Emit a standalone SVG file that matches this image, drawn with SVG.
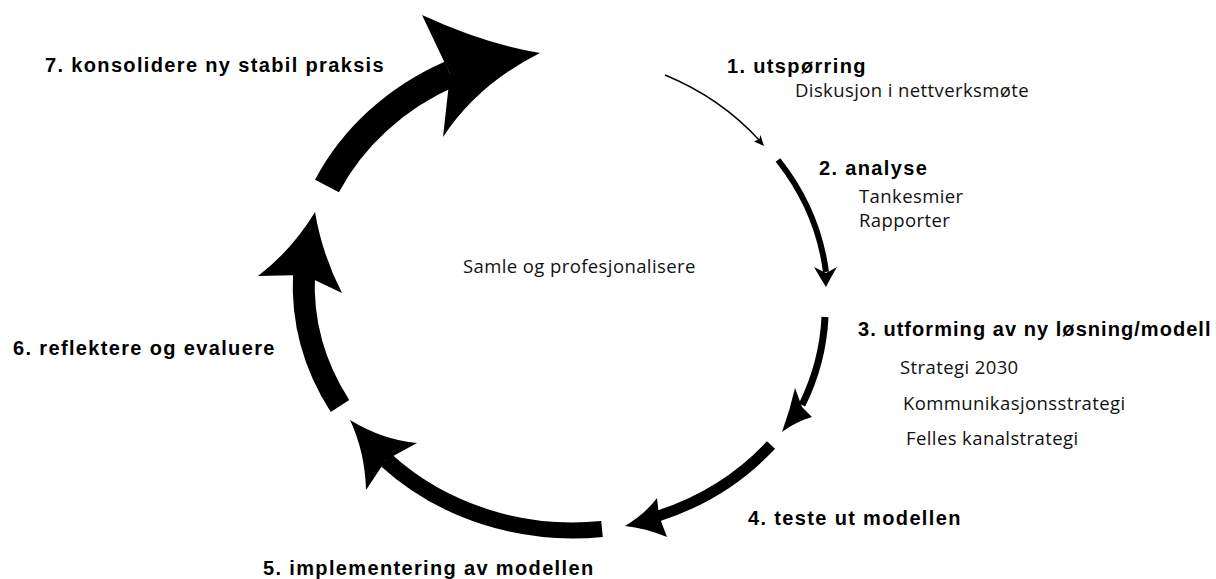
<svg xmlns="http://www.w3.org/2000/svg" width="1216" height="579" viewBox="0 0 1216 579">
  <style>
    .step { font-family: "Liberation Sans", Arial, sans-serif; font-weight: bold; font-size: 20px; letter-spacing: 1.35px; fill: #000; }
    .note { font-family: "Open Sans", "Noto Sans", sans-serif; font-size: 18.5px; letter-spacing: 0.4px; fill: #111; }
    .shaft { fill: none; stroke: #000; stroke-linecap: butt; }
    .head { fill: #000; stroke: none; }
  </style>
  <rect width="1216" height="579" fill="#fff"/>

  <!-- cycle arrows, growing heavier step by step -->
  <g id="connectors">
    <!-- 1 -> 2 -->
    <path class="shaft" d="M665,75 A264,240 0 0 1 760,141" stroke-width="1.4"/>
    <path class="head" d="M764,146 L754,141.5 L759.5,139 L760.5,135 Z"/>
    <!-- 2 -> 3 -->
    <path class="shaft" d="M778,160 A264,240 0 0 1 826,272" stroke-width="6"/>
    <path class="head" d="M826,287 Q819,276 814,267 L826,273 L837,267 Q831,277 826,287 Z"/>
    <!-- 3 -> 4 -->
    <path class="shaft" d="M825,317 A264,240 0 0 1 802,405" stroke-width="7"/>
    <path class="head" d="M782,432 Q790,410 795,388 L802,407 L812,417 Q795,422 782,432 Z"/>
    <!-- 4 -> 5 -->
    <path class="shaft" d="M771,445 A264,240 0 0 1 658,516" stroke-width="11"/>
    <path class="head" d="M625,526 Q645,514 657,498 L659,516 L667,537 Q645,528 625,526 Z"/>
    <!-- 5 -> 6 -->
    <path class="shaft" d="M602,529 A264,240 0 0 1 386,460" stroke-width="16"/>
    <path class="head" d="M350,420 Q383,440 417,443 L386,460 L366,490 Q365,452 350,420 Z"/>
    <!-- 6 -> 7 -->
    <path class="shaft" d="M340,406 A264,240 0 0 1 304,274" stroke-width="22"/>
    <path class="head" d="M315,212 Q292,250 258,276 L304,275 L342,293 Q322,254 315,212 Z"/>
    <!-- 7 -> 1 -->
    <path class="shaft" d="M327,186 A264,240 0 0 1 450,74" stroke-width="27"/>
    <path class="head" d="M540,53 Q485,44 422,15 L450,74 L443,137 Q478,84 540,53 Z"/>
  </g>

  <g id="center">
    <text class="note" x="463" y="273">Samle og profesjonalisere</text>
  </g>

  <g id="step1">
    <text class="step" x="727" y="73">1. utspørring</text>
    <text class="note" x="795" y="97">Diskusjon i nettverksmøte</text>
  </g>
  <g id="step2">
    <text class="step" x="819" y="175">2. analyse</text>
    <text class="note" x="859" y="203">Tankesmier</text>
    <text class="note" x="859" y="227">Rapporter</text>
  </g>
  <g id="step3">
    <text class="step" x="858" y="336" style="letter-spacing:1.05px">3. utforming av ny løsning/modell</text>
    <text class="note" x="900" y="374">Strategi 2030</text>
    <text class="note" x="903" y="410">Kommunikasjonsstrategi</text>
    <text class="note" x="906" y="445">Felles kanalstrategi</text>
  </g>
  <g id="step4">
    <text class="step" x="748" y="525">4. teste ut modellen</text>
  </g>
  <g id="step5">
    <text class="step" x="263" y="575">5. implementering av modellen</text>
  </g>
  <g id="step6">
    <text class="step" x="13" y="355">6. reflektere og evaluere</text>
  </g>
  <g id="step7">
    <text class="step" x="45" y="72">7. konsolidere ny stabil praksis</text>
  </g>
</svg>
